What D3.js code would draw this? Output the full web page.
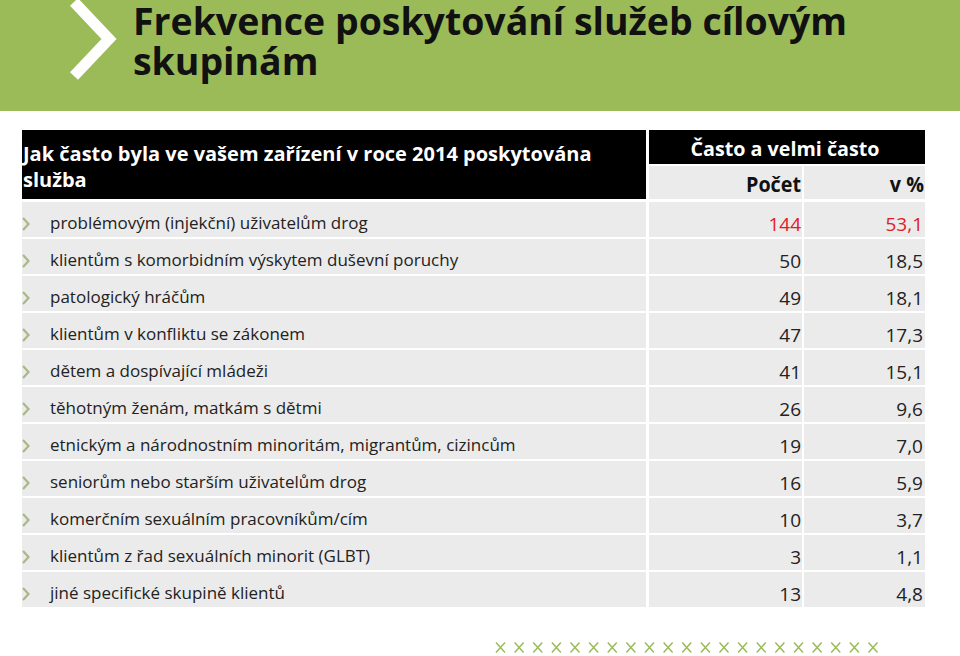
<!DOCTYPE html>
<html>
<head>
<meta charset="utf-8">
<script src="https://cdn.jsdelivr.net/npm/d3@7"></script>
<style>
body { margin: 0; background: #fff; }
text { font-family: "Open Sans", "Noto Sans", sans-serif; }
</style>
</head>
<body>
<div id="svgContainer"></div>
<script>
// data
var categories = [
    "problémovým (injekční) uživatelům drog",
    "klientům s komorbidním výskytem duševní poruchy",
    "patologický hráčům",
    "klientům v konfliktu se zákonem",
    "dětem a dospívající mládeži",
    "těhotným ženám, matkám s dětmi",
    "etnickým a národnostním minoritám, migrantům, cizincům",
    "seniorům nebo starším uživatelům drog",
    "komerčním sexuálním pracovníkům/cím",
    "klientům z řad sexuálních minorit (GLBT)",
    "jiné specifické skupině klientů"
];
var counts = [144, 50, 49, 47, 41, 26, 19, 16, 10, 3, 13];
var percents = [53.1, 18.5, 18.1, 17.3, 15.1, 9.6, 7.0, 5.9, 3.7, 1.1, 4.8];
var titleLines = ["Frekvence poskytování služeb cílovým", "skupinám"];
var headLines = ["Jak často byla ve vašem zařízení v roce 2014 poskytována", "služba"];
var groupLabel = "Často a velmi často";
var colLabels = ["Počet", "v %"];

var width = 960, height = 656;
var green = "#9bbb59";
var fmt = function(v) { return d3.format(".1f")(v).replace(".", ","); };

var svg = d3.select("#svgContainer")
    .append("svg")
    .attr("width", width)
    .attr("height", height);

// squeeze a group of texts horizontally so that the first one is w px wide
// (the original font is narrower than what we have here)
function squeeze(sel, w) {
    var first = sel.node().getComputedTextLength();
    var k = Math.min(1, w / first);
    sel.each(function() {
        var len = this.getComputedTextLength();
        d3.select(this).attr("textLength", len * k).attr("lengthAdjust", "spacingAndGlyphs");
    });
}

// green title band
svg.append("rect").attr("x", 0).attr("y", 0).attr("width", width).attr("height", 111).attr("fill", green);
svg.append("path")
    .attr("d", "M74,2 L109,39 L74,76")
    .attr("fill", "none").attr("stroke", "#fff").attr("stroke-width", 11);

var tl = svg.selectAll(".title").data(titleLines).enter().append("text")
    .attr("class", "title")
    .attr("x", 133).attr("y", function(d, i) { return 35 + i * 40; })
    .style("font-size", "38px").style("font-weight", "bold").attr("fill", "#111")
    .text(function(d) { return d; });
squeeze(tl, 714);

// columns
var x0 = 22, xSplit = 647, xMid = 803, xRight = 925;
var rowTop = 202, rowBottom = 609;

var y = d3.scaleBand()
    .domain(d3.range(categories.length))
    .range([rowTop, rowBottom]);

// header
svg.append("rect").attr("x", x0).attr("y", 130).attr("width", xSplit - x0 - 1).attr("height", 69).attr("fill", "#000");
svg.append("rect").attr("x", xSplit + 2).attr("y", 130).attr("width", xRight - xSplit - 2).attr("height", 34).attr("fill", "#000");
svg.append("rect").attr("x", xSplit + 2).attr("y", 166).attr("width", xMid - xSplit - 3).attr("height", 33).attr("fill", "#ebebeb");
svg.append("rect").attr("x", xMid + 1).attr("y", 166).attr("width", xRight - xMid - 1).attr("height", 33).attr("fill", "#ebebeb");

var hl = svg.selectAll(".head").data(headLines).enter().append("text")
    .attr("class", "head")
    .attr("x", x0 + 1).attr("y", function(d, i) { return 161 + i * 26; })
    .style("font-size", "20px").style("font-weight", "bold").attr("fill", "#fff")
    .text(function(d) { return d; });
squeeze(hl, 572);

var gl = svg.append("text")
    .attr("x", (xSplit + xRight) / 2 - 1).attr("y", 156).attr("text-anchor", "middle")
    .style("font-size", "20px").style("font-weight", "bold").attr("fill", "#fff")
    .text(groupLabel);
squeeze(gl, 189);

var ch = svg.selectAll(".colhead").data(colLabels).enter().append("text")
    .attr("class", "colhead")
    .attr("x", function(d, i) { return i === 0 ? xMid - 2 : xRight - 1; })
    .attr("y", 192).attr("text-anchor", "end")
    .style("font-size", "21px").style("font-weight", "bold").attr("fill", "#111")
    .text(function(d) { return d; });
squeeze(ch, 55);

// rows
var rows = svg.selectAll(".row").data(categories).enter().append("g")
    .attr("class", "row")
    .attr("transform", function(d, i) { return "translate(0," + y(i) + ")"; });

var rh = y.bandwidth() - 2;
rows.append("rect").attr("x", x0).attr("width", xSplit - x0 - 1).attr("height", rh).attr("fill", "#ebebeb");
rows.append("rect").attr("x", xSplit + 2).attr("width", xMid - xSplit - 3).attr("height", rh).attr("fill", "#ebebeb");
rows.append("rect").attr("x", xMid + 1).attr("width", xRight - xMid - 1).attr("height", rh).attr("fill", "#ebebeb");

var bh = 22;
rows.append("path")
    .attr("d", "M23," + (bh - 6) + " L28.5," + bh + " L23," + (bh + 6))
    .attr("fill", "none").attr("stroke", "#a9b887").attr("stroke-width", 2.2);

var labels = rows.append("text")
    .attr("class", "label")
    .attr("x", 50).attr("y", 27)
    .style("font-size", "17px").attr("fill", "#222")
    .text(function(d) { return d; });
squeeze(labels, 330);

rows.append("text")
    .attr("x", xMid - 2).attr("y", 29).attr("text-anchor", "end")
    .style("font-size", "19px")
    .attr("fill", function(d, i) { return i === 0 ? "#e02020" : "#222"; })
    .text(function(d, i) { return counts[i]; });

rows.append("text")
    .attr("x", xRight - 2).attr("y", 29).attr("text-anchor", "end")
    .style("font-size", "19px")
    .attr("fill", function(d, i) { return i === 0 ? "#e02020" : "#222"; })
    .text(function(d, i) { return fmt(percents[i]); });

// decorative crosses
var xs = d3.scalePoint().domain(d3.range(21)).range([500.5, 873]);
svg.selectAll(".cross").data(d3.range(21)).enter().append("path")
    .attr("class", "cross")
    .attr("d", function(d) { var cx = xs(d), cy = 647.5; return "M" + (cx - 4.5) + "," + (cy - 5) + "L" + (cx + 4.5) + "," + (cy + 5) + "M" + (cx + 4.5) + "," + (cy - 5) + "L" + (cx - 4.5) + "," + (cy + 5); })
    .attr("stroke", green).attr("stroke-width", 1.5).attr("fill", "none");
</script>
</body>
</html>
